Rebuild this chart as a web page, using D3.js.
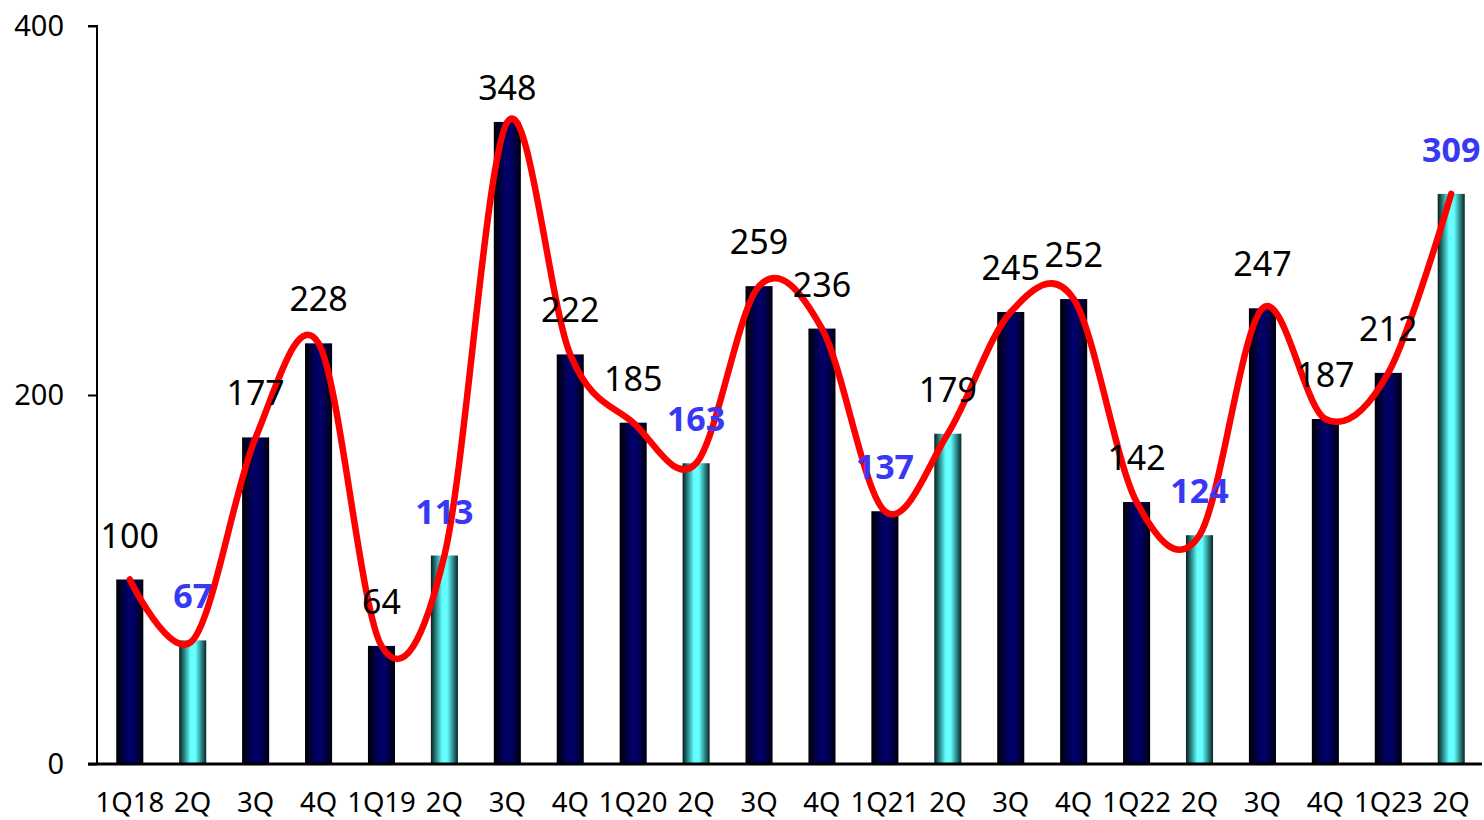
<!DOCTYPE html>
<html><head><meta charset="utf-8">
<script src="https://cdn.jsdelivr.net/npm/d3@7"></script>
<style>body{margin:0;background:#fff}svg{display:block}</style>
</head><body><svg id="c" width="1484" height="820"></svg>
<script>
const categories = ["1Q18","2Q","3Q","4Q","1Q19","2Q","3Q","4Q","1Q20","2Q","3Q","4Q","1Q21","2Q","3Q","4Q","1Q22","2Q","3Q","4Q","1Q23","2Q"];
const values = [100,67,177,228,64,113,348,222,185,163,259,236,137,179,245,252,142,124,247,187,212,309];
const cyanBars = [1,5,9,13,17,21];
const blueLabels = [1,5,9,12,17,21];
const yTicks = [0,200,400];

const svg = d3.select("#c");
const font = "'Noto Sans', 'Open Sans', sans-serif";
const x = d3.scaleBand().domain(d3.range(categories.length)).range([98,1483]).paddingInner(0.57).paddingOuter(0.29);
const y = d3.scaleLinear().domain([0,400]).range([764,26]);

const defs = svg.append("defs");
function grad(id, stops){
  const g = defs.append("linearGradient").attr("id",id).attr("x1","0").attr("x2","1").attr("y1","0").attr("y2","0");
  stops.forEach(s=>g.append("stop").attr("offset",s[0]).attr("stop-color",s[1]));
}
grad("gNavy",[[0,"#000000"],[0.25,"#000040"],[0.45,"#000068"],[0.6,"#000068"],[0.8,"#000040"],[1,"#000008"]]);
grad("gCyan",[[0,"#0a1c1c"],[0.2,"#2a8a8a"],[0.42,"#66ffff"],[0.6,"#66ffff"],[0.82,"#2a8a8a"],[1,"#0a2424"]]);

svg.append("g").selectAll("rect").data(values).join("rect")
  .attr("x",(d,i)=>x(i)).attr("width",x.bandwidth())
  .attr("y",d=>y(d)).attr("height",d=>y(0)-y(d))
  .attr("fill",(d,i)=>cyanBars.includes(i)?"url(#gCyan)":"url(#gNavy)");

// axes
const yAxis = d3.axisLeft(y).tickValues(yTicks).tickSize(9).tickPadding(8).tickFormat(d3.format("d"));
const gy = svg.append("g").attr("transform","translate(97,0)").call(yAxis);
gy.select(".domain").attr("stroke","#000").attr("stroke-width",2).attr("d","M-9,26H0V764");
gy.selectAll(".tick line").attr("stroke","#000").attr("stroke-width",2);
gy.selectAll(".tick text").attr("font-family",font).attr("font-size",29).attr("fill","#000").attr("x",-33).attr("dy","0.34em");

const xAxis = d3.axisBottom(x).tickSize(0).tickPadding(28).tickFormat(i=>categories[i]);
const gx = svg.append("g").attr("transform","translate(0,764)").call(xAxis);
gx.select(".domain").attr("stroke","#000").attr("stroke-width",3).attr("d","M88,0H1482");
gx.selectAll(".tick text").attr("font-family",font).attr("font-size",27.5).attr("fill","#000").attr("dy","0.71em");

// smooth line
const line = d3.line().x((d,i)=>x(i)+x.bandwidth()/2).y(d=>y(d)).curve(d3.curveCardinal.tension(0));
svg.append("path").datum(values).attr("d",line).attr("fill","none").attr("stroke","#ff0000").attr("stroke-width",6.5).attr("stroke-linecap","round");

// labels
svg.append("g").selectAll("text").data(values).join("text")
  .attr("x",(d,i)=>x(i)+x.bandwidth()/2).attr("y",d=>Math.max(y(d)-32,100))
  .attr("text-anchor","middle").attr("font-family",font).attr("font-size",34)
  .attr("font-weight",(d,i)=>blueLabels.includes(i)?"bold":"normal")
  .attr("fill",(d,i)=>blueLabels.includes(i)?"#3838f5":"#000")
  .text(d=>d);
</script></body></html>
